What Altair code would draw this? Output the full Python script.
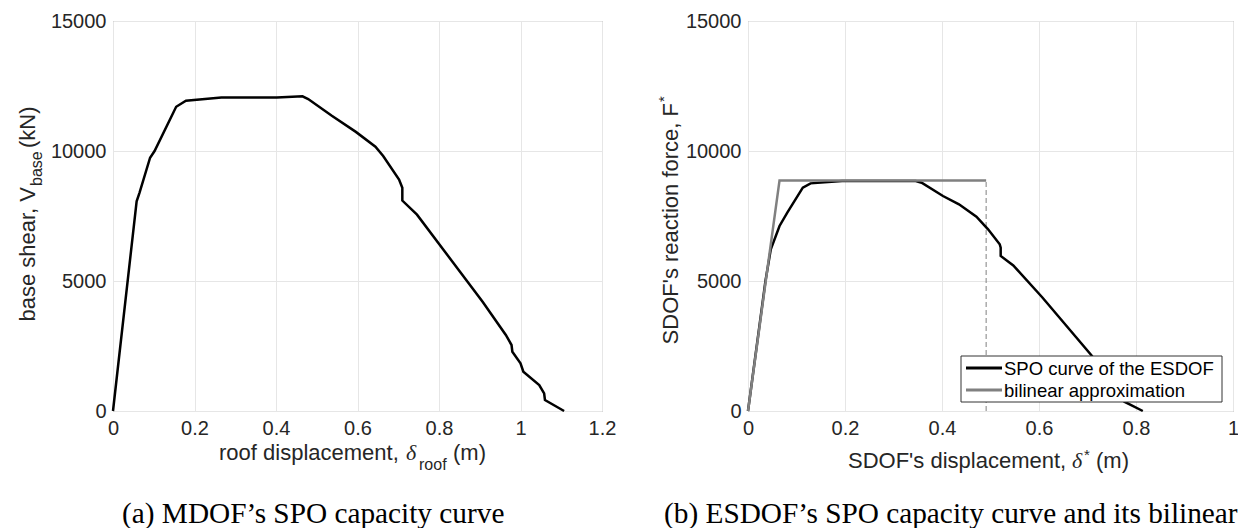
import altair as alt
import pandas as pd

# ---------------- data ----------------
# (a) MDOF SPO capacity curve
mdof_disp = [0.0, 0.058, 0.065, 0.091, 0.102, 0.155, 0.179, 0.266, 0.402, 0.465,
             0.479, 0.537, 0.596, 0.644, 0.663, 0.702, 0.710, 0.710, 0.746, 0.907,
             0.964, 0.978, 0.980, 1.000, 1.007, 1.046, 1.058, 1.060, 1.107]
mdof_shear = [0, 8067, 8390, 9743, 10000, 11701, 11933, 12062, 12062, 12101,
              12000, 11353, 10735, 10168, 9807, 8905, 8583, 8093, 7552, 4201,
              2923, 2538, 2282, 1833, 1513, 1000, 679, 423, 0]

# (b) ESDOF SPO curve
esdof_disp = [0.0, 0.036, 0.047, 0.065, 0.081, 0.113, 0.129, 0.194, 0.346, 0.358,
              0.402, 0.435, 0.471, 0.495, 0.519, 0.521, 0.521, 0.547, 0.607, 0.708,
              0.776, 0.814]
esdof_force = [0, 5000, 6221, 7117, 7629, 8589, 8755, 8845, 8845, 8781,
               8269, 7949, 7475, 6989, 6413, 6285, 5965, 5600, 4365, 2143,
               357, 0]

# bilinear approximation
bilin_disp = [0.0, 0.065, 0.491]
bilin_force = [0, 8870, 8870]

# ultimate displacement marker (dashed)
du_disp = [0.491, 0.491]
du_force = [0, 8870]

series_names = ["SPO curve of the ESDOF", "bilinear approximation"]
series_colors = ["#000000", "#808080"]

x_ticks_a = [0, 0.2, 0.4, 0.6, 0.8, 1.0, 1.2]
x_ticks_b = [0, 0.2, 0.4, 0.6, 0.8, 1.0]
y_ticks = [0, 5000, 10000, 15000]

SANS = "Liberation Sans"
SERIF = "Liberation Serif"
TXT = "#262626"
GRID = "#e6e6e6"

W_A, W_B, H = 489, 485, 390


def one():
    return alt.Chart(pd.DataFrame({"k": [0]}))


def txt(s, x, y, size=22, angle=0, align="left", font=SANS, style="normal", color=TXT):
    return alt.Chart(pd.DataFrame({"t": [s]})).mark_text(
        align=align, baseline="alphabetic", angle=angle, font=font,
        fontSize=size, fontStyle=style, color=color
    ).encode(text="t:N", x=alt.value(x), y=alt.value(y))


def xaxis(vals):
    return alt.Axis(values=vals, title=None, format="~g", grid=True, gridColor=GRID,
                    ticks=False, tickSize=0, domain=False, labelFontSize=20,
                    labelFont=SANS, labelColor=TXT, labelPadding=7,
                    labelFlush=False, labelOverlap=False, labelBound=False)


yaxis = alt.Axis(values=y_ticks, title=None, format="d", grid=True, gridColor=GRID,
                 ticks=False, tickSize=0, domain=False, labelFontSize=20,
                 labelFont=SANS, labelColor=TXT, labelPadding=7,
                 labelFlush=False, labelOverlap=False, labelBound=False)

# ---------------- panel (a) ----------------
df_a = pd.DataFrame({"d": mdof_disp, "v": mdof_shear, "i": range(len(mdof_disp))})
line_a = alt.Chart(df_a).mark_line(color="black", strokeWidth=2.5).encode(
    x=alt.X("d:Q", scale=alt.Scale(domain=[0, 1.2], nice=False), axis=xaxis(x_ticks_a)),
    y=alt.Y("v:Q", scale=alt.Scale(domain=[0, 15000], nice=False), axis=yaxis),
    order="i:Q",
)

panel_a = alt.layer(
    line_a,
    txt("roof displacement,", 106, 439),
    txt("δ", 293, 439, font=SERIF, style="italic"),
    txt("roof", 306, 449, size=16),
    txt("(m)", 340, 439),
    txt("base shear, V", -78, 166, angle=270, align="right"),
    txt("base", -71, 165, size=16, angle=270, align="left"),
    txt("(kN)", -78, 127, angle=270, align="left"),
    txt("(a) MDOF’s SPO capacity curve", 9, 502, size=29.3, font=SERIF, color="black"),
).properties(width=W_A, height=H)

# ---------------- panel (b) ----------------
df_spo = pd.DataFrame({"d": esdof_disp, "f": esdof_force, "i": range(len(esdof_disp)),
                       "s": series_names[0]})
df_bil = pd.DataFrame({"d": bilin_disp, "f": bilin_force, "i": range(len(bilin_disp)),
                       "s": series_names[1]})
df_du = pd.DataFrame({"d": du_disp, "f": du_force, "i": range(len(du_disp))})

xs_b = alt.X("d:Q", scale=alt.Scale(domain=[0, 1.0], nice=False), axis=xaxis(x_ticks_b))
ys_b = alt.Y("f:Q", scale=alt.Scale(domain=[0, 15000], nice=False), axis=yaxis)
color_b = alt.Color("s:N", scale=alt.Scale(domain=series_names, range=series_colors),
                    legend=None)

dash_b = alt.Chart(df_du).mark_line(color="#808080", strokeWidth=1, strokeDash=[5, 3]).encode(
    x=xs_b, y=ys_b, order="i:Q")
spo_b = alt.Chart(df_spo).mark_line(strokeWidth=2.5).encode(
    x=xs_b, y=ys_b, color=color_b, order="i:Q")
bil_b = alt.Chart(df_bil).mark_line(strokeWidth=2.5).encode(
    x=xs_b, y=ys_b, color=color_b, order="i:Q")

# legend box (drawn as annotation so the rows stay compact)
leg_box = one().mark_rect(fill="white", stroke="#333333", strokeWidth=1).encode(
    x=alt.value(213), x2=alt.value(474), y=alt.value(335), y2=alt.value(381))
leg_sym1 = one().mark_rule(color=series_colors[0], strokeWidth=3).encode(
    x=alt.value(218), x2=alt.value(254), y=alt.value(347))
leg_sym2 = one().mark_rule(color=series_colors[1], strokeWidth=3).encode(
    x=alt.value(218), x2=alt.value(254), y=alt.value(369))

panel_b = alt.layer(
    dash_b, spo_b, bil_b,
    leg_box, leg_sym1, leg_sym2,
    txt(series_names[0], 256, 353.5, size=18.5, color="black"),
    txt(series_names[1], 256, 375.5, size=18.5, color="black"),
    txt("SDOF's displacement,", 100, 447),
    txt("δ", 324, 447, font=SERIF, style="italic"),
    txt("*", 336, 439, size=15),
    txt("(m)", 348, 447),
    txt("SDOF's reaction force, F", -70, 82, angle=270, align="right"),
    txt("*", -79, 81, size=15, angle=270, align="left"),
    txt("(b) ESDOF’s SPO capacity curve and its bilinear", -84, 502, size=29.3,
        font=SERIF, color="black"),
).properties(width=W_B, height=H)

chart = alt.hconcat(panel_a, panel_b, spacing=146, bounds="flush").properties(
    padding={"left": 105, "top": 13, "right": 1125, "bottom": 507},
    autosize=alt.AutoSizeParams(type="none"),
).configure_view(stroke="#8c8c8c", strokeWidth=1)

chart.save("out.html", embed_options={"renderer": "svg", "actions": False})
